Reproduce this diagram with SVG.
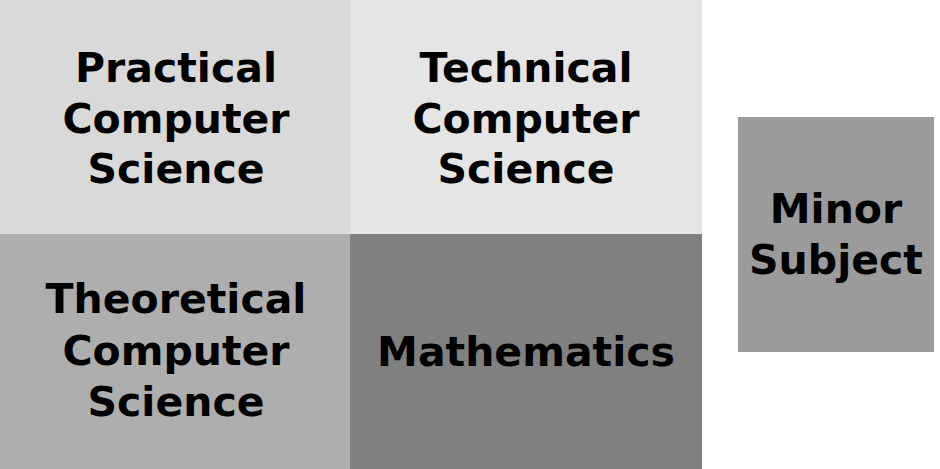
<svg xmlns="http://www.w3.org/2000/svg" width="940" height="469" viewBox="0 0 940 469">
<style>
text{font-family:"DejaVu Sans","Liberation Sans",sans-serif;font-weight:bold;font-size:41px;fill:#000;text-anchor:middle}
rect{stroke:none}
</style>
<rect width="940" height="469" fill="#fff"/>
<g id="practical">
<rect x="0" y="0" width="350" height="234" fill="#d9d9d9"/>
<text x="176" y="82">Practical</text>
<text x="176" y="133">Computer</text>
<text x="176" y="183">Science</text>
</g>
<g id="technical">
<rect x="350" y="0" width="352" height="234" fill="#e5e5e5"/>
<text x="526" y="82">Technical</text>
<text x="526" y="133">Computer</text>
<text x="526" y="183">Science</text>
</g>
<g id="theoretical">
<rect x="0" y="234" width="350" height="235" fill="#aeaeae"/>
<text x="176" y="313">Theoretical</text>
<text x="176" y="365">Computer</text>
<text x="176" y="416">Science</text>
</g>
<g id="mathematics">
<rect x="350" y="234" width="352" height="235" fill="#808080"/>
<text x="526" y="366">Mathematics</text>
</g>
<g id="minor">
<rect x="738" y="117" width="196" height="235" fill="#9b9b9b"/>
<text x="836" y="223">Minor</text>
<text x="836" y="274">Subject</text>
</g>
<g id="connectors"></g>
</svg>
